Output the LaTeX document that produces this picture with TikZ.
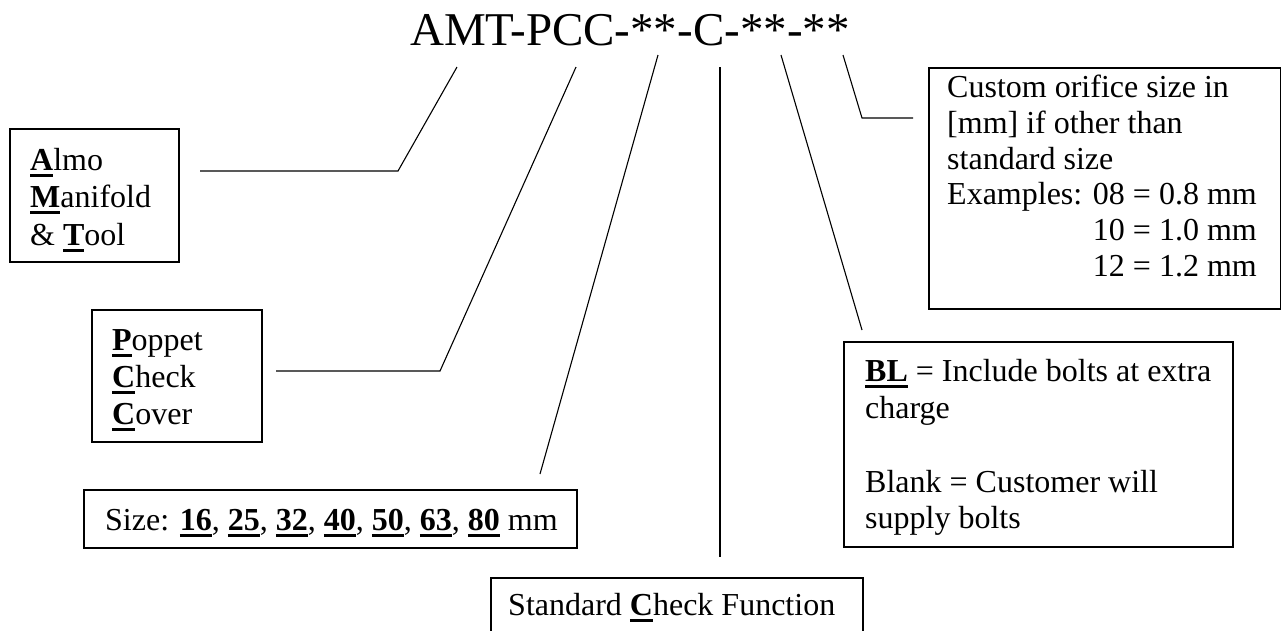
\documentclass[tikz,border=0pt]{standalone}
\usepackage{fontspec}
\setmainfont{Liberation Serif}
\newsavebox\ubbox
\newcommand\ub[1]{\sbox\ubbox{\textbf{#1}}\rlap{\rule[-6.5pt]{\wd\ubbox}{3pt}}\usebox{\ubbox}}
\begin{document}
\begin{tikzpicture}[x=1pt,y=-1pt,
  box/.style={draw, line width=1.8pt, rectangle, inner sep=0pt, anchor=north west},
  txt/.style={inner sep=0pt, anchor=base west, font=\fontsize{32}{36.8}\selectfont},
  conn/.style={line width=1.1pt, line join=miter}]
\useasboundingbox (0,0) rectangle (1281,630);
\clip (0,0) rectangle (1281,630);
\fill[white] (0,0) rectangle (1281,630);

% title
\node[inner sep=0pt, anchor=base west, font=\fontsize{47}{54}\selectfont] (title) at (410,45) {AMT-PCC-**-C-**-**};

% boxes
\node[box, minimum width=169pt, minimum height=133pt] (almoB) at (9,128) {};
\node[box, minimum width=170pt, minimum height=132pt] (popB) at (91,309) {};
\node[box, minimum width=493pt, minimum height=58pt] (sizeB) at (83,489) {};
\node[box, minimum width=372pt, minimum height=90pt] (stdB) at (490,577) {};
\node[box, minimum width=352pt, minimum height=241pt] (custB) at (928,67) {};
\node[box, minimum width=389pt, minimum height=205pt] (blB) at (843,341) {};

% texts
\node[txt] (almo1) at (30,170) {\ub{A}lmo};
\node[txt] (almo2) at (30,207.5) {\ub{M}anifold};
\node[txt] (almo3) at (30,245) {\& \ub{T}ool};

\node[txt] (pop1) at (112,350) {\ub{P}oppet};
\node[txt] (pop2) at (112,387) {\ub{C}heck};
\node[txt] (pop3) at (112,424) {\ub{C}over};

\node[txt] (size1) at (105,530) {Size: \ub{16}, \ub{25}, \ub{32}, \ub{40}, \ub{50}, \ub{63}, \ub{80} mm};

\node[txt] (std1) at (508,615) {Standard \ub{C}heck Function};

\node[txt] (cust1) at (947,97) {Custom orifice size in};
\node[txt] (cust2) at (947,133) {[mm] if other than};
\node[txt] (cust3) at (947,169) {standard size};
\node[txt] (cust4) at (947,204.5) {Examples: 08 = 0.8 mm};
\node[txt] (cust5) at (947,240) {\phantom{Examples: }10 = 1.0 mm};
\node[txt] (cust6) at (947,276) {\phantom{Examples: }12 = 1.2 mm};

\node[txt] (bl1) at (865,381) {\ub{BL} = Include bolts at extra};
\node[txt] (bl2) at (865,418) {charge};
\node[txt] (bl3) at (865,492) {Blank = Customer will};
\node[txt] (bl4) at (865,528) {supply bolts};

% connector end points
\coordinate (cA0) at (457,67);  \coordinate (cA1) at (398,171); \coordinate (cA2) at (200,171);
\coordinate (cP0) at (576,67);  \coordinate (cP1) at (440,371); \coordinate (cP2) at (276,371);
\coordinate (cS0) at (658,55);  \coordinate (cS1) at (540,474);
\coordinate (cC0) at (720,67);  \coordinate (cC1) at (720,557);
\coordinate (cB0) at (781,55);  \coordinate (cB1) at (862,330);
\coordinate (cO0) at (843,55);  \coordinate (cO1) at (862,118); \coordinate (cO2) at (913,118);

\draw[conn] (cA0) -- (cA1) -- (cA2);
\draw[conn] (cP0) -- (cP1) -- (cP2);
\draw[conn] (cS0) -- (cS1);
\draw[conn] (cC0) -- (cC1);
\draw[conn] (cB0) -- (cB1);
\draw[conn] (cO0) -- (cO1) -- (cO2);
\end{tikzpicture}
\end{document}
